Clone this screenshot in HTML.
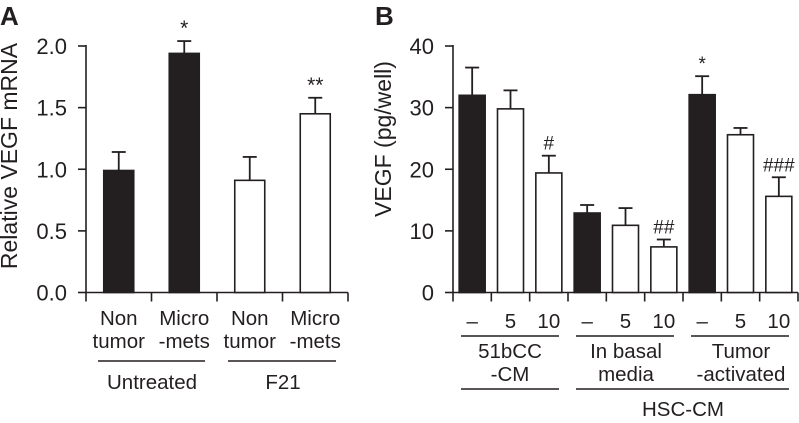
<!DOCTYPE html>
<html><head><meta charset="utf-8"><style>
body{margin:0;background:#fff}
svg text{font-family:"Liberation Sans",sans-serif;fill:#231f20}
</style></head><body>
<svg width="799" height="418" viewBox="0 0 799 418" id="fig">
<text x="0" y="25" font-size="26" font-weight="bold">A</text>
<text x="375" y="25" font-size="26" font-weight="bold">B</text>
<text transform="translate(17,156) rotate(-90)" text-anchor="middle" font-size="23">Relative VEGF mRNA</text>
<text transform="translate(391,139) rotate(-90)" text-anchor="middle" font-size="23">VEGF (pg/well)</text>
<g id="ga"></g><g id="gb"></g>
<g stroke="#231f20" stroke-width="1.5">
<line x1="98" y1="361" x2="205" y2="361"/>
<line x1="228" y1="361" x2="336" y2="361"/>
<line x1="461" y1="336" x2="559" y2="336"/>
<line x1="576" y1="336" x2="674" y2="336"/>
<line x1="691" y1="336" x2="789" y2="336"/>
<line x1="461" y1="389" x2="559" y2="389"/>
<line x1="576" y1="389" x2="789" y2="389"/>
</g>
<g font-size="20.5" text-anchor="middle">
<text x="152" y="389">Untreated</text>
<text x="283" y="389">F21</text>
<text x="510" y="358">51bCC</text>
<text x="510" y="381">-CM</text>
<text x="626" y="358">In basal</text>
<text x="626" y="381">media</text>
<text x="741" y="358">Tumor</text>
<text x="741" y="381">-activated</text>
<text x="683" y="416">HSC-CM</text>
</g>
</svg>
<script>
const aCats1=["Non","Micro","Non","Micro"];
const aCats2=["tumor","-mets","tumor","-mets"];
const aValues=[0.99,1.94,0.91,1.45];
const aErrors=[1.14,2.04,1.10,1.58];
const aFilled=[true,true,false,false];
const aSig=["","*","","**"];
const aTicks=[0,0.5,1.0,1.5,2.0];
const bCats=["–","5","10","–","5","10","–","5","10"];
const bValues=[32,29.8,19.4,12.9,10.9,7.4,32.1,25.6,15.6];
const bErrors=[36.5,32.8,22.2,14.2,13.7,8.6,35.1,26.7,18.7];
const bFilled=[true,false,false,true,false,false,true,false,false];
const bSig=["","","#","","","##","*","","###"];
const bTicks=[0,10,20,30,40];
const NS="http://www.w3.org/2000/svg";
function mk(p,t,a){const e=document.createElementNS(NS,t);for(const k in a)e.setAttribute(k,a[k]);p.appendChild(e);return e;}
function draw(g,o){
 const y=v=>o.y0-(v/o.max)*(o.y0-o.yTop);
 const n=o.vals.length, step=(o.x1-o.x0)/n, x=i=>o.x0+step*(i+0.5);
 let e=mk(g,'line',{x1:o.x0,y1:o.yTop-1,x2:o.x0,y2:o.y0,stroke:'#231f20','stroke-width':1.6});
 
 
 e=mk(g,'line',{x1:o.x0,y1:o.y0,x2:o.x1,y2:o.y0,stroke:'#231f20','stroke-width':1.6});
 
 
 o.ticks.forEach(t=>{
  e=mk(g,'line',{x1:o.x0-8,y1:y(t),x2:o.x0,y2:y(t),stroke:'#231f20','stroke-width':1.6});
  
  
  e=mk(g,'text',{x:o.x0-19,y:y(t)+8,'font-size':22,'text-anchor':'end'});
  e.textContent=o.fmt(t);
  
  
 });
 for(let i=0;i<=n;i++){
  e=mk(g,'line',{x1:o.x0+step*i,y1:o.y0,x2:o.x0+step*i,y2:o.y0+9,stroke:'#231f20','stroke-width':1.6});
  
  
 }
 o.vals.forEach((v,i)=>{
  const cx=x(i);
  e=mk(g,'line',{x1:cx,y1:y(o.errs[i]),x2:cx,y2:y(v),stroke:'#231f20','stroke-width':1.8});
  
  
  e=mk(g,'line',{x1:cx-7,y1:y(o.errs[i]),x2:cx+7,y2:y(o.errs[i]),stroke:'#231f20','stroke-width':1.8});
  
  
  e=mk(g,'rect',{x:cx-o.bw/2,y:y(v),width:o.bw,height:o.y0-y(v),fill:o.filled[i]?'#231f20':'#fff',stroke:'#231f20','stroke-width':1.6});
  
  
  if(o.sig[i]){
   e=mk(g,'text',{x:cx,y:y(o.errs[i])-6,'font-size':o.sigSize,'text-anchor':'middle'});
   e.textContent=o.sig[i];
   
   
  }
  o.labels.forEach((L,k)=>{
   e=mk(g,'text',{x:cx,y:o.labelY+k*23,'font-size':20.5,'text-anchor':'middle'});
   e.textContent=L[i];
   
   
  });
 });
}
draw(document.getElementById('ga'),{x0:86,x1:348,y0:292.5,yTop:46,max:2,vals:aValues,errs:aErrors,filled:aFilled,sig:aSig,ticks:aTicks,fmt:t=>t.toFixed(1),bw:30,labels:[aCats1,aCats2],labelY:325,sigSize:21});
draw(document.getElementById('gb'),{x0:453,x1:798,y0:292.5,yTop:46,max:40,vals:bValues,errs:bErrors,filled:bFilled,sig:bSig,ticks:bTicks,fmt:t=>String(t),bw:26,labels:[bCats],labelY:328,sigSize:19});
</script>
</body></html>
